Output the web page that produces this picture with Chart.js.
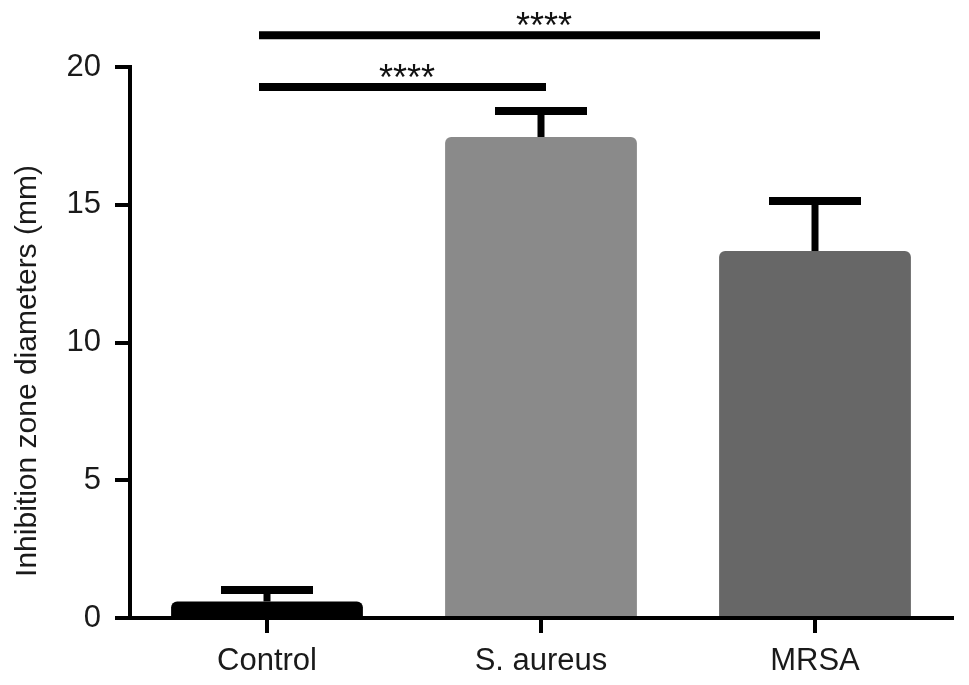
<!DOCTYPE html>
<html>
<head>
<meta charset="utf-8">
<script src="https://cdn.jsdelivr.net/npm/chart.js@4.4.1/dist/chart.umd.min.js"></script>
<style>
  html,body{margin:0;padding:0;background:#fff;}
  #wrap{width:969px;height:685px;}
</style>
</head>
<body>
<div id="wrap"><canvas id="c" width="969" height="685"></canvas></div>
<script>
const categories = ["Control", "S. aureus", "MRSA"];
const means = [0.6, 17.46, 13.32];
const errors = [0.42, 0.94, 1.82];
const barColors = ["#000000", "#8a8a8a", "#676767"];
const yTicks = [0, 5, 10, 15, 20];
const yTitle = "Inhibition zone diameters (mm)";
// significance brackets: from category index, to category index, height in axis units, label
const sigFrom = [0, 0];
const sigTo = [2, 1];
const sigY = [21.15, 19.27];
const sigLabels = ["****", "****"];

const FONT = "'Liberation Sans', Arial, Helvetica, sans-serif";

const extras = {
  id: 'extras',
  afterDatasetsDraw(chart) {
    const ctx = chart.ctx;
    const xs = chart.scales.x, ys = chart.scales.y;
    ctx.save();
    ctx.strokeStyle = '#000';
    // error bars (upper only, with cap)
    for (let i = 0; i < means.length; i++) {
      const x = xs.getPixelForValue(i);
      const yM = ys.getPixelForValue(means[i]);
      const yT = ys.getPixelForValue(means[i] + errors[i]);
      ctx.lineCap = 'butt';
      ctx.lineWidth = 7;
      ctx.beginPath(); ctx.moveTo(x, yM); ctx.lineTo(x, yT); ctx.stroke();
      ctx.lineWidth = 8;
      ctx.beginPath(); ctx.moveTo(x - 46, yT); ctx.lineTo(x + 46, yT); ctx.stroke();
    }
    // significance lines
    for (let k = 0; k < sigFrom.length; k++) {
      const x1 = xs.getPixelForValue(sigFrom[k]) - 8;
      const x2 = xs.getPixelForValue(sigTo[k]) + 5;
      const y = ys.getPixelForValue(sigY[k]);
      ctx.lineWidth = 8;
      ctx.beginPath(); ctx.moveTo(x1, y); ctx.lineTo(x2, y); ctx.stroke();
      ctx.fillStyle = '#111';
      ctx.font = '36px ' + FONT;
      ctx.textAlign = 'center';
      ctx.textBaseline = 'alphabetic';
      const xm = (xs.getPixelForValue(sigFrom[k]) + xs.getPixelForValue(sigTo[k])) / 2 + 3;
      ctx.fillText(sigLabels[k], xm, y + 3);
    }
    // y axis title
    ctx.save();
    ctx.fillStyle = '#1a1a1a';
    ctx.font = '30px ' + FONT;
    ctx.textAlign = 'center';
    ctx.textBaseline = 'alphabetic';
    ctx.translate(36, 371);
    ctx.rotate(-Math.PI / 2);
    ctx.fillText(yTitle, 0, 0);
    ctx.restore();
    ctx.restore();
  }
};

new Chart(document.getElementById('c'), {
  type: 'bar',
  data: {
    labels: categories,
    datasets: [{
      data: means,
      backgroundColor: barColors,
      borderWidth: 0,
      borderRadius: {topLeft: 6, topRight: 6, bottomLeft: 0, bottomRight: 0},
      borderSkipped: 'bottom',
      barPercentage: 0.70,
      categoryPercentage: 1.0
    }]
  },
  options: {
    responsive: false,
    animation: false,
    devicePixelRatio: 1,
    layout: {padding: {top: 67, right: 17, left: 0, bottom: 0}},
    plugins: {legend: {display: false}, tooltip: {enabled: false}},
    scales: {
      x: {
        offset: true,
        grid: {display: true, drawOnChartArea: false, drawTicks: true, tickLength: 15, lineWidth: 4, color: '#000', offset: false},
        border: {display: true, width: 4, color: '#000'},
        ticks: {color: '#1a1a1a', font: {family: FONT, size: 31}, padding: 10, maxRotation: 0},
        afterFit(s) { s.height = 67; }
      },
      y: {
        min: 0, max: 20,
        afterBuildTicks(s) { s.ticks = yTicks.map(v => ({value: v})); },
        grid: {display: true, drawOnChartArea: false, drawTicks: true, tickLength: 15, lineWidth: 4, color: '#000'},
        border: {display: true, width: 4, color: '#000'},
        ticks: {color: '#1a1a1a', font: {family: FONT, size: 31}, padding: 14},
        title: {display: false},
        afterFit(s) { s.width = 130; }
      }
    }
  },
  plugins: [extras]
});
</script>
</body>
</html>
